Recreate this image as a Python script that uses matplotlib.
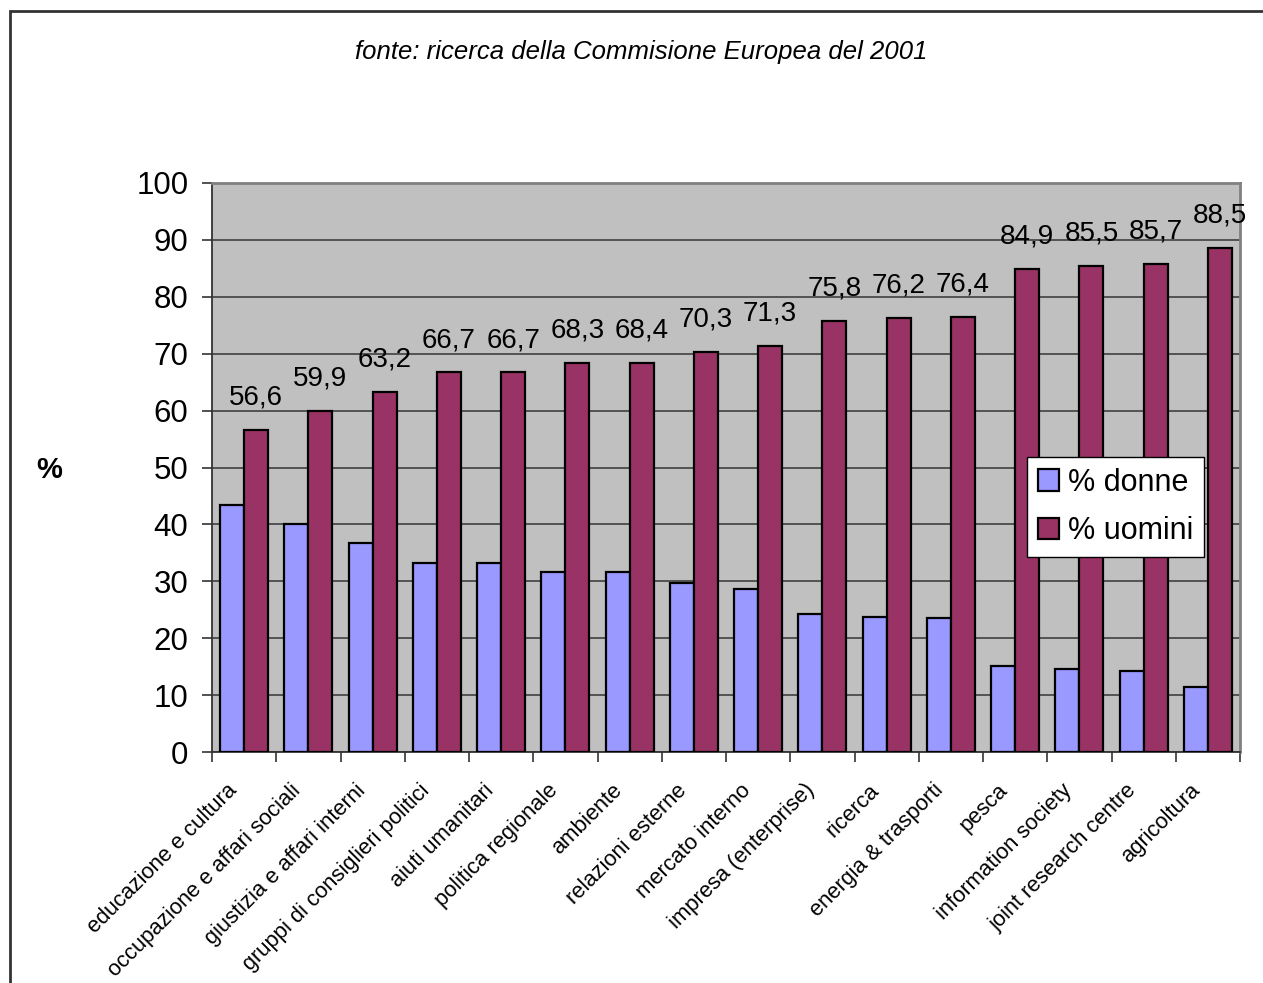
import matplotlib
matplotlib.use("Agg")
import matplotlib.pyplot as plt
import matplotlib.transforms as mtransforms
import numpy as np
from matplotlib.patches import Rectangle

categorie = ["educazione e cultura", "occupazione e affari sociali",
             "giustizia e affari interni", "gruppi di consiglieri politici",
             "aiuti umanitari", "politica regionale", "ambiente",
             "relazioni esterne", "mercato interno", "impresa (enterprise)",
             "ricerca", "energia & trasporti", "pesca", "information society",
             "joint research centre", "agricoltura"]
donne = [43.4, 40.1, 36.8, 33.3, 33.3, 31.7, 31.6, 29.7, 28.7, 24.2,
         23.8, 23.6, 15.1, 14.5, 14.3, 11.5]
uomini = [56.6, 59.9, 63.2, 66.7, 66.7, 68.3, 68.4, 70.3, 71.3, 75.8,
          76.2, 76.4, 84.9, 85.5, 85.7, 88.5]
y_ticks = list(range(0, 101, 10))

plt.rcParams['font.family'] = ['Liberation Sans', 'DejaVu Sans']

fig = plt.figure(figsize=(12.63, 9.83), dpi=100)
ax = fig.add_axes([212/1263, 1-752/983, 1028/1263, 569/983])

x = np.arange(len(categorie))
w = 0.375
ax.bar(x - w/2, donne, w, color="#9999FF", edgecolor="black", linewidth=1.6,
       label="% donne", zorder=3)
ax.bar(x + w/2, uomini, w, color="#993366", edgecolor="black", linewidth=1.6,
       label="% uomini", zorder=3)

# etichette dei valori sopra le barre degli uomini
for xi, v in zip(x, uomini):
    ax.annotate(("%.1f" % v).replace(".", ","), (xi + w/2, v),
                xytext=(0, 14), textcoords="offset points",
                ha="center", va="bottom", fontsize=20)

ax.set_facecolor("#C0C0C0")
ax.set_xlim(-0.5, len(categorie) - 0.5)
ax.set_ylim(0, 100)
ax.set_yticks(y_ticks)
ax.set_yticklabels([str(t) for t in y_ticks], fontsize=22.5)
ax.yaxis.grid(True, color="#404040", linewidth=1.2, zorder=0)
ax.set_axisbelow(True)

ax.set_xticks(x)
ax.set_xticklabels(categorie, rotation=45, ha="right", rotation_mode="anchor",
                   fontsize=15.8)
ax.set_xticks(np.arange(len(categorie) + 1) - 0.5, minor=True)
ax.tick_params(axis="x", which="major", length=0, pad=20)
ax.tick_params(axis="x", which="minor", length=7, width=1.2, color="#333333")
ax.tick_params(axis="y", length=7, width=1.2, color="#333333", pad=10)
shift = mtransforms.ScaledTranslation(-18/100, 0, fig.dpi_scale_trans)
for lab in ax.get_xticklabels():
    lab.set_transform(lab.get_transform() + shift)

for s in ["top", "right"]:
    ax.spines[s].set_color("#808080")
    ax.spines[s].set_linewidth(2)
for s in ["left", "bottom"]:
    ax.spines[s].set_color("#333333")
    ax.spines[s].set_linewidth(1.3)

leg = ax.legend(loc="upper left", bbox_to_anchor=(815/1028, (752-457)/569),
                borderaxespad=0, fontsize=22, frameon=True, fancybox=False,
                framealpha=1, edgecolor="black", handlelength=0.7,
                handleheight=0.7, handletextpad=0.3, borderpad=0.35,
                labelspacing=0.6)
leg.get_frame().set_linewidth(1.0)

fig.text(49/1263, 1-470/983, "%", fontsize=21, fontweight="bold",
         ha="center", va="center")
fig.text(641/1263, 1-52/983, "fonte: ricerca della Commisione Europea del 2001",
         fontsize=18.5, style="italic", ha="center", va="center")

fig.patches.append(Rectangle((9.5/1263, -0.05), 1.1, 1-11/983 + 0.05,
                             transform=fig.transFigure, fill=False,
                             edgecolor="#333333", linewidth=2))

fig.savefig("out.png", dpi=100)
